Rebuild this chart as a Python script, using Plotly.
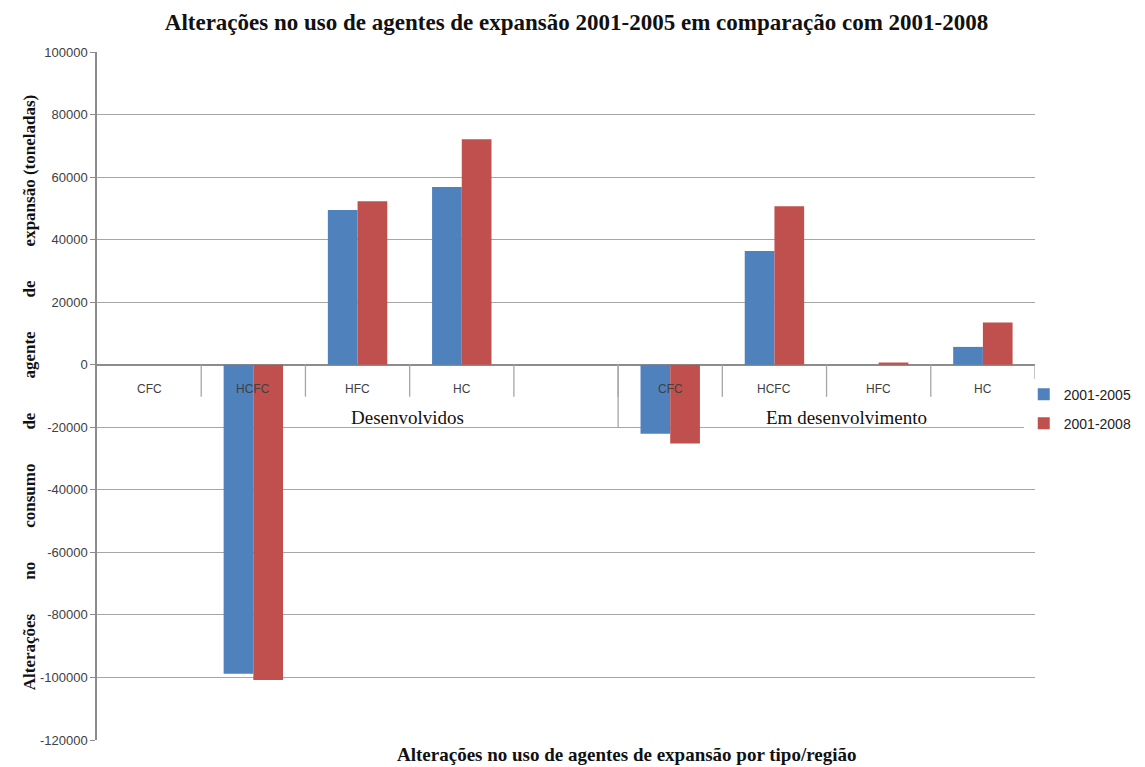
import plotly.graph_objects as go

# categorias (o slot vazio faz parte do grupo "Desenvolvidos")
regions = ["Desenvolvidos"] * 5 + ["Em desenvolvimento"] * 4
agents = ["CFC", "HCFC", "HFC", "HC", "", "CFC", "HCFC", "HFC", "HC"]

s2005 = [0, -98800, 49500, 56800, 0, -22100, 36400, 0, 5700]
s2008 = [0, -100800, 52300, 72100, 0, -25200, 50700, 700, 13500]

series_names = ["2001-2005", "2001-2008"]
colors = ["#4F81BD", "#C0504D"]

y_ticks = list(range(-120000, 100001, 20000))

SERIF = "Liberation Serif"
SANS = "Liberation Sans"

xpos = list(range(len(agents)))

fig = go.Figure()
for name, vals, c in zip(series_names, [s2005, s2008], colors):
    fig.add_trace(go.Bar(x=xpos, y=vals, name=name, marker_color=c,
                         marker_line_width=0, legendgroup=name))

# linhas da tabela de categorias (presas ao zero do eixo)
for i in range(len(agents) - 1):
    fig.add_shape(type="line", xref="x", yref="y", x0=i + 0.5, x1=i + 0.5,
                  ysizemode="pixel", yanchor=0, y0=0, y1=-32,
                  line=dict(color="#A6A6A6", width=1.3))

# separadores de grupo; no original os rótulos ficam um pouco à direita do centro
label_shift = {"Desenvolvidos": 50, "Em desenvolvimento": 20}
group_names = []
for r in regions:
    if r not in group_names:
        group_names.append(r)
for g in group_names:
    idx = [i for i, r in enumerate(regions) if r == g]
    fig.add_shape(type="line", xref="x", yref="y", x0=idx[-1] + 0.5, x1=idx[-1] + 0.5,
                  y0=0, y1=-20000, line=dict(color="#A6A6A6", width=1.3))
    fig.add_annotation(x=sum(idx) / len(idx), y=0, xref="x", yref="y",
                       text=g, showarrow=False, yshift=-53, xshift=label_shift[g],
                       font=dict(family=SERIF, size=19, color="#111111"))

for i, a in enumerate(agents):
    if a:
        fig.add_annotation(x=i, y=0, xref="x", yref="y", text=a, showarrow=False,
                           yshift=-24, font=dict(family=SANS, size=12, color="#404040"))

nb = "\u00a0" * 8
ytitle = nb.join(["Alterações", "no", "consumo", "de", "agente", "de", "expansão"]) + " (toneladas)"
fig.add_annotation(x=-0.084, y=0.505, xref="paper", yref="paper", text="<b>" + ytitle + "</b>",
                   textangle=-90, showarrow=False,
                   font=dict(family=SERIF, size=17, color="#111111"))

fig.add_annotation(x=0.565, y=-0.021, xref="paper", yref="paper",
                   text="<b>Alterações no uso de agentes de expansão por tipo/região</b>",
                   showarrow=False, yanchor="middle",
                   font=dict(family=SERIF, size=19, color="#111111"))

fig.update_layout(
    width=1137, height=759,
    margin=dict(l=89, r=110, t=44, b=27, autoexpand=False),
    paper_bgcolor="white", plot_bgcolor="white",
    title=dict(text="<b>Alterações no uso de agentes de expansão 2001-2005 em comparação com 2001-2008</b>",
               x=0.5, xanchor="center", y=0.9816, yanchor="middle",
               font=dict(family=SERIF, size=23, color="#111111")),
    barmode="group", bargap=0.43, bargroupgap=0,
    legend=dict(x=0.988, y=0.481, xanchor="left", yanchor="middle",
                font=dict(family=SANS, size=14, color="#222222"),
                tracegroupgap=8),
    showlegend=True,
)
fig.update_xaxes(range=[-0.5, len(agents) - 0.5], showticklabels=False,
                 showgrid=False, zeroline=False, showline=False, ticks="")
fig.update_yaxes(range=[-120000, 100000], tickvals=y_ticks,
                 ticktext=[str(v) for v in y_ticks],
                 showgrid=True, gridcolor="#A6A6A6", gridwidth=1.3,
                 zeroline=True, zerolinecolor="#8C8C8C", zerolinewidth=2,
                 showline=True, linecolor="#8C8C8C", linewidth=1.5,
                 ticks="outside", ticklen=5, tickcolor="#8C8C8C",
                 tickfont=dict(family=SANS, size=13, color="#404040"))

fig.write_html("out.html")
